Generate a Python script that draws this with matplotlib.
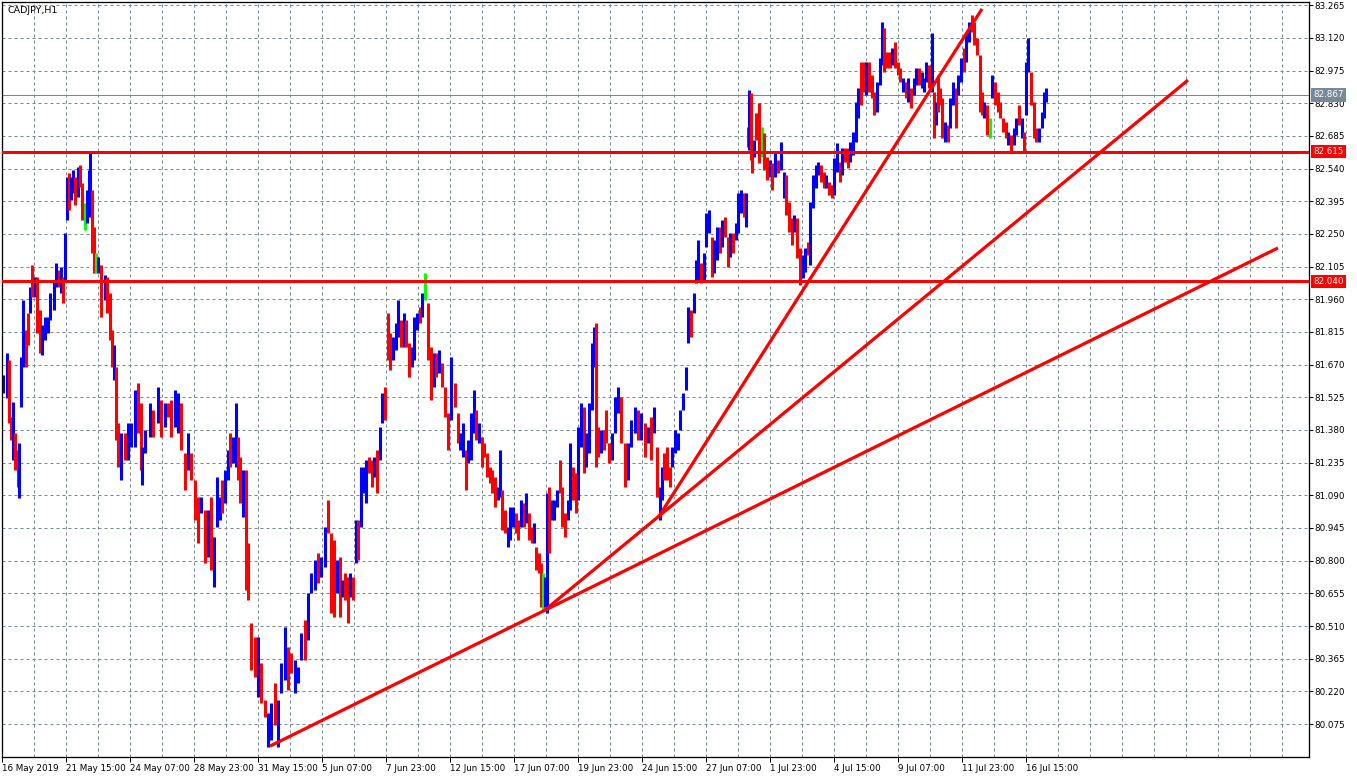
import matplotlib
matplotlib.use("Agg")
import matplotlib.pyplot as plt
import matplotlib.transforms as mtransforms

#   CADJPY H1 bar chart.
#   Each entry below is a sampled hourly bar: hour offset from the first bar
#   of 16 May 2019, high, low, and direction (u = up, d = down, n = unchanged).

bar_hour = [
    1, 5, 7, 9, 11, 13, 16, 17, 19, 21,
    24, 26, 28, 30, 33, 35, 38, 40, 43, 46,
    48, 52, 54, 57, 59, 61, 63, 65, 67, 69,
    71, 73, 76, 78, 80, 83, 85, 87, 88, 90,
    92, 94, 96, 99, 103, 105, 108,
    110, 112, 114, 116, 119, 123, 126, 129, 133, 136,
    139, 140, 143, 148, 151, 156, 159, 163, 166, 169,
    173, 176, 179, 183, 186, 189, 193, 196, 199, 203,
    206, 209, 212, 215, 218, 220, 223, 226, 228, 231,
    234, 236, 238, 241, 244, 246, 249, 253, 256, 259,
    263, 266, 269, 273, 276,
    279, 283, 286, 289, 293, 296, 299, 303, 306, 309,
    313, 316, 319, 323, 326, 329, 332, 335, 338, 340,
    343, 346, 348, 351, 354, 356, 359, 362, 364, 367,
    370, 372, 375, 378, 380, 383, 386, 388, 391, 394,
    396, 399, 402, 404, 407, 410, 412, 415, 418, 420,
    423, 426, 429, 432, 434, 437, 440,
    443, 446, 449, 453, 456, 458, 461, 464, 466, 469,
    472, 474, 477, 480, 482, 485, 488, 490, 493, 496,
    498, 500, 503, 506, 508, 511, 514, 516, 519, 522,
    524, 527, 530, 532, 534, 537, 539, 541, 543, 545,
    547, 550, 552, 555, 558, 560, 563, 566, 568, 571,
    574, 576, 579, 582, 584, 587, 590, 592, 594, 596,
    599, 602, 604, 607, 610, 613, 616, 619, 623, 626,
    629, 633, 636, 639, 643, 646, 649, 652, 655, 658,
    660, 662, 665, 668, 670, 673, 676, 678, 681, 684,
    686, 689, 692, 694, 696, 699, 702, 704, 707, 710,
    712, 715, 718, 720, 723, 726, 728, 731, 734, 736,
    739, 742, 744,
    746, 747, 749, 750, 752, 754, 757, 760, 762, 765,
    768, 770, 773, 776, 779, 782, 784, 787, 790, 792,
    795, 798, 801, 803, 806, 808, 811, 814, 816, 819,
    822, 824, 827, 830, 832, 835, 838, 840, 843, 846,
    848, 851, 854, 856, 859, 862, 864, 867, 870, 872,
    875, 878, 880, 882, 885, 888, 890, 893, 896, 898,
    901, 904, 906, 909, 912, 914, 917, 920, 922, 924,
    927, 930, 932, 934, 936, 938, 940, 943, 946, 948,
    951, 954, 956, 959, 962, 964, 967, 970, 972, 975,
    978, 980, 982, 985, 988, 990, 993, 996, 998, 1001,
    1004, 1006, 1009, 1012, 1014, 1017, 1020, 1022, 1024, 1026,
    1029, 1032, 1034, 1037, 1040, 1042, 1044,
]

bar_high = [
    81.624, 81.722, 81.690, 81.437, 81.504, 81.366, 81.291, 81.322, 81.704, 81.957,
    81.824, 81.899, 82.014, 82.112, 82.059, 82.059, 81.913, 81.846, 81.881, 81.881,
    81.988, 82.046, 82.121, 82.090, 82.103, 82.059, 82.254, 82.503, 82.521, 82.503,
    82.534, 82.503, 82.547, 82.556, 82.476, 82.387, 82.445, 82.534, 82.609, 82.445,
    82.281, 82.166, 82.148, 82.112, 82.068, 82.059, 81.988,
    81.824, 81.757, 81.659, 81.411, 81.366, 81.366, 81.411, 81.411, 81.557, 81.589,
    81.500, 81.304, 81.380, 81.500, 81.469, 81.571, 81.513, 81.500, 81.500, 81.513,
    81.557, 81.544, 81.500, 81.278, 81.366, 81.278, 81.158, 81.082, 81.082, 81.025,
    81.025, 81.082, 80.904, 81.171, 81.082, 81.158, 81.202, 81.291, 81.366, 81.348,
    81.500, 81.348, 81.260, 81.202, 81.202, 80.878, 80.523, 80.460, 80.460, 80.345,
    80.180, 80.123, 80.167, 80.256, 80.180,
    80.345, 80.505, 80.416, 80.389, 80.358, 80.327, 80.478, 80.536, 80.656, 80.745,
    80.802, 80.834, 80.816, 80.949, 81.069, 80.922, 80.891, 80.802, 80.816, 80.714,
    80.745, 80.727, 80.745, 80.727, 80.980, 80.980, 81.215, 81.215, 81.247, 81.260,
    81.247, 81.260, 81.291, 81.393, 81.544, 81.571, 81.899, 81.810, 81.792, 81.855,
    81.957, 81.868, 81.899, 81.868, 81.766, 81.748, 81.881, 81.899, 81.926, 81.988,
    82.077, 81.944, 81.748, 81.722, 81.722, 81.735, 81.677,
    81.571, 81.455, 81.704, 81.589, 81.455, 81.366, 81.411, 81.291, 81.335, 81.455,
    81.557, 81.469, 81.411, 81.348, 81.322, 81.278, 81.215, 81.202, 81.171, 81.127,
    81.291, 81.113, 81.025, 80.949, 81.038, 81.038, 81.011, 80.980, 81.069, 81.056,
    81.100, 81.011, 80.949, 80.967, 80.860, 80.834, 80.789, 80.745, 80.727, 81.100,
    81.127, 81.069, 81.069, 81.113, 81.247, 81.127, 81.011, 81.069, 81.322, 81.215,
    81.189, 81.393, 81.500, 81.482, 81.366, 81.500, 81.766, 81.837, 81.855, 81.393,
    81.380, 81.380, 81.469, 81.322, 81.366, 81.526, 81.571, 81.526, 81.322, 81.322,
    81.424, 81.482, 81.469, 81.455, 81.411, 81.393, 81.437, 81.482, 81.304, 81.127,
    81.215, 81.278, 81.304, 81.215, 81.304, 81.380, 81.366, 81.469, 81.544, 81.659,
    81.926, 81.913, 81.988, 82.134, 82.223, 82.121, 82.166, 82.343, 82.356, 82.236,
    82.223, 82.281, 82.281, 82.312, 82.325, 82.236, 82.254, 82.254, 82.299, 82.432,
    82.445, 82.432, 82.432,
    82.725, 82.889, 82.876, 82.654, 82.667, 82.787, 82.831, 82.725, 82.698, 82.591,
    82.578, 82.565, 82.609, 82.578, 82.658, 82.525, 82.512, 82.392, 82.321, 82.334,
    82.321, 82.188, 82.157, 82.188, 82.214, 82.392, 82.512, 82.556, 82.569, 82.556,
    82.525, 82.512, 82.480, 82.467, 82.587, 82.654, 82.569, 82.632, 82.632, 82.632,
    82.658, 82.703, 82.836, 82.898, 83.013, 83.013, 83.013, 83.013, 82.955, 82.880,
    82.924, 83.031, 83.191, 83.164, 83.058, 83.058, 83.075, 83.102, 83.013, 82.987,
    82.942, 82.924, 82.942, 82.898, 82.942, 82.987, 82.987, 82.969, 82.942, 83.013,
    83.000, 83.142, 82.880, 82.836, 82.955, 82.898, 82.853, 82.747, 82.734, 82.853,
    82.924, 82.898, 82.955, 83.031, 83.075, 83.146, 83.191, 83.222, 83.191, 83.120,
    83.044, 82.880, 82.836, 82.822, 82.765, 82.955, 82.924, 82.880, 82.836, 82.765,
    82.747, 82.703, 82.689, 82.720, 82.765, 82.822, 82.765, 82.703, 83.013, 83.120,
    82.969, 82.836, 82.720, 82.720, 82.791, 82.880, 82.898,
]

bar_low = [
    81.544, 81.522, 81.411, 81.335, 81.247, 81.202, 81.127, 81.078, 81.482, 81.659,
    81.659, 81.757, 81.899, 81.970, 81.970, 81.810, 81.722, 81.713, 81.779, 81.810,
    81.868, 81.913, 82.014, 82.014, 81.988, 81.944, 82.046, 82.312, 82.356, 82.401,
    82.432, 82.378, 82.414, 82.458, 82.312, 82.268, 82.299, 82.414, 82.325, 82.166,
    82.077, 82.077, 82.077, 81.881, 81.957, 81.899, 81.779,
    81.659, 81.602, 81.335, 81.215, 81.158, 81.247, 81.247, 81.304, 81.304, 81.366,
    81.202, 81.135, 81.278, 81.348, 81.348, 81.411, 81.348, 81.393, 81.437, 81.348,
    81.393, 81.366, 81.291, 81.113, 81.202, 81.158, 80.980, 80.878, 81.011, 80.789,
    80.816, 80.758, 80.682, 80.949, 80.980, 81.011, 81.056, 81.158, 81.215, 81.233,
    81.215, 81.158, 81.056, 80.993, 80.669, 80.625, 80.314, 80.282, 80.194, 80.167,
    80.105, 79.972, 80.003, 80.069, 79.972,
    80.212, 80.269, 80.225, 80.300, 80.212, 80.256, 80.358, 80.358, 80.447, 80.656,
    80.669, 80.700, 80.727, 80.771, 80.922, 80.567, 80.549, 80.656, 80.549, 80.638,
    80.625, 80.523, 80.638, 80.625, 80.789, 80.802, 80.949, 81.100, 81.056, 81.189,
    81.127, 81.171, 81.100, 81.247, 81.411, 81.424, 81.690, 81.646, 81.690, 81.735,
    81.792, 81.748, 81.748, 81.748, 81.615, 81.659, 81.690, 81.824, 81.855, 81.881,
    81.957, 81.690, 81.513, 81.571, 81.615, 81.633, 81.571,
    81.437, 81.291, 81.424, 81.482, 81.322, 81.291, 81.260, 81.113, 81.233, 81.247,
    81.366, 81.335, 81.322, 81.215, 81.260, 81.171, 81.144, 81.100, 81.038, 81.069,
    81.082, 80.936, 80.922, 80.860, 80.891, 80.949, 80.922, 80.891, 80.949, 80.949,
    80.967, 80.891, 80.878, 80.878, 80.758, 80.745, 80.593, 80.580, 80.593, 80.567,
    80.834, 80.980, 80.980, 81.038, 81.100, 80.949, 80.904, 80.980, 81.025, 81.069,
    81.011, 81.069, 81.304, 81.189, 81.215, 81.278, 81.469, 81.659, 81.215, 81.260,
    81.278, 81.291, 81.322, 81.233, 81.247, 81.366, 81.455, 81.322, 81.127, 81.158,
    81.304, 81.366, 81.335, 81.335, 81.260, 81.322, 81.247, 81.366, 81.082, 80.980,
    81.069, 81.158, 81.158, 81.127, 81.215, 81.278, 81.291, 81.380, 81.469, 81.557,
    81.766, 81.792, 81.899, 82.032, 82.046, 82.032, 82.046, 82.192, 82.254, 82.059,
    82.077, 82.134, 82.166, 82.192, 82.236, 82.103, 82.148, 82.166, 82.223, 82.254,
    82.343, 82.325, 82.281,
    82.636, 82.623, 82.578, 82.521, 82.591, 82.667, 82.565, 82.591, 82.534, 82.489,
    82.503, 82.445, 82.503, 82.521, 82.534, 82.410, 82.334, 82.259, 82.201, 82.259,
    82.143, 82.023, 82.055, 82.081, 82.157, 82.112, 82.365, 82.454, 82.512, 82.480,
    82.454, 82.454, 82.423, 82.410, 82.423, 82.525, 82.480, 82.512, 82.569, 82.543,
    82.569, 82.600, 82.658, 82.765, 82.822, 82.880, 82.867, 82.880, 82.853, 82.778,
    82.791, 82.911, 83.000, 82.969, 82.987, 82.987, 83.000, 82.987, 82.955, 82.924,
    82.880, 82.853, 82.836, 82.809, 82.867, 82.911, 82.911, 82.898, 82.880, 82.924,
    82.898, 82.880, 82.676, 82.734, 82.791, 82.822, 82.676, 82.658, 82.658, 82.720,
    82.822, 82.720, 82.867, 82.924, 82.969, 83.013, 83.102, 83.146, 83.089, 83.044,
    82.791, 82.778, 82.765, 82.689, 82.676, 82.853, 82.822, 82.791, 82.765, 82.703,
    82.676, 82.645, 82.614, 82.645, 82.689, 82.734, 82.676, 82.614, 82.778, 82.969,
    82.822, 82.676, 82.658, 82.658, 82.720, 82.765, 82.836,
]

bar_dir = list(
    "uuddudduuu" "ddududduuu" "uuududuudu" "ududdnuuud" "dnududd"
    "dudduduuud" "duuudududd" "uuddudddud" "uduuuduudu" "udduddddud" "duudu"
    "uudduuuduu" "uduudddudu" "ddududuuud" "duduuddduu" "ududduuudu" "nddudud"
    "ddudduuduu" "ududdddddu" "udduuuddud" "uddudddnuu" "duuuddduud"
    "duuduuuudd" "uddduuuddu" "uududududu" "uddduuuuuu" "uduuuduuud"
    "uududduduu" "udu"
    "dudduddndd" "ududuudddu" "dduuduuuud" "dudduududd" "uuuudduddd"
    "uuuddduddd" "ududuuduuu" "dududddudu" "uduuduuddd" "ddudnudddd"
    "duduududuu" "ddduuuu"
)

assert len(bar_hour) == len(bar_high) == len(bar_low) == len(bar_dir)

#   Horizontal levels, current price and trend lines (hour, price)
level_prices = [82.615, 82.040]
current_price = 82.867
trend_lines = [
    ((268, 79.977), (1276, 82.188)),
    ((543, 80.581), (1186, 82.933)),
    ((656, 80.990), (980, 83.249)),
]

#   Time axis labels every 64 hours
time_hours = [0, 64, 128, 192, 256, 320, 384, 448, 512, 576, 640, 704,
              768, 832, 896, 960, 1024]
time_labels = ["16 May 2019", "21 May 15:00", "24 May 07:00", "28 May 23:00",
               "31 May 15:00", "5 Jun 07:00", "7 Jun 23:00", "12 Jun 15:00",
               "17 Jun 07:00", "19 Jun 23:00", "24 Jun 15:00", "27 Jun 07:00",
               "1 Jul 23:00", "4 Jul 15:00", "9 Jul 07:00", "11 Jul 23:00",
               "16 Jul 15:00"]

price_ticks = [round(80.075 + 0.145 * k, 3) for k in range(23)]

symbol_title = "CADJPY,H1"


plt.rcParams['font.family'] = ['DejaVu Sans']
plt.rcParams['lines.scale_dashes'] = False

W, H = 1357, 777
px = 72.0 / 100.0   # one pixel in points

fig = plt.figure(figsize=(W / 100, H / 100), dpi=100)
fig.patch.set_facecolor('white')

#   plot area spans pixel x 2..1309 and y 2..757
ax = fig.add_axes([2 / W, (H - 757) / H, 1307 / W, 755 / H])
ax.set_xlim(0, 1307)
ax.set_ylim(79.9286, 83.2796)

grid_col = '#778899'
dash = (0, (3 * px, 3 * px))

#   grid
ax.set_xticks(time_hours)
ax.set_xticks(list(range(32, 1300, 32)), minor=True)
ax.set_xticklabels(time_labels, ha='left')
ax.yaxis.tick_right()
ax.set_yticks(price_ticks)
ax.set_yticklabels(['%.3f' % p for p in price_ticks])
ax.grid(True, which='both', axis='x', color=grid_col, linestyle=dash, linewidth=px)
ax.grid(True, which='major', axis='y', color=grid_col, linestyle=dash, linewidth=px)
ax.set_axisbelow(True)

ax.tick_params(axis='x', which='major', direction='out', length=5 * px, width=px,
               labelsize=6.3, pad=1.2, colors='black')
ax.tick_params(axis='x', which='minor', length=0)
ax.tick_params(axis='y', which='major', direction='out', length=4 * px, width=px,
               labelsize=6.3, pad=1, colors='black')

for sp in ax.spines.values():
    sp.set_color('black')
    sp.set_linewidth(px * 1.3)

#   current price line (behind bars)
ax.axhline(current_price, color=grid_col, linewidth=px, zorder=1.5)

#   bars
dir_colors = {'u': '#0000ff', 'd': '#ff0000', 'n': '#00ff00'}
ax.vlines(bar_hour, bar_low, bar_high,
          colors=[dir_colors[d] for d in bar_dir], linewidth=2.2, zorder=2)

#   horizontal levels and trend lines
for p in level_prices:
    ax.axhline(p, color='#ff0000', linewidth=3 * px, zorder=3)
for (x0, y0), (x1, y1) in trend_lines:
    ax.plot([x0, x1], [y0, y1], color='#ff0000', linewidth=3.2 * px,
            solid_capstyle='butt', zorder=3)

#   price tags on the right scale
trans = mtransforms.blended_transform_factory(ax.transAxes, ax.transData)
tag_trans = mtransforms.offset_copy(trans, fig=fig, x=4, y=0, units='dots')
tags = [(current_price, grid_col)] + [(p, '#ff0000') for p in level_prices]
for p, col in tags:
    ax.text(1.0, p, '%.3f' % p, transform=tag_trans, ha='left', va='center',
            fontsize=6.3, color='white', clip_on=False, zorder=6,
            bbox=dict(boxstyle='square,pad=0.25', fc=col, ec='none'))

#   symbol caption
ax.text(5 / 1307, 1 - 4 / 755, symbol_title, transform=ax.transAxes,
        ha='left', va='top', fontsize=6.8, color='black', zorder=6)

fig.savefig('out.png', dpi=100, facecolor='white')
